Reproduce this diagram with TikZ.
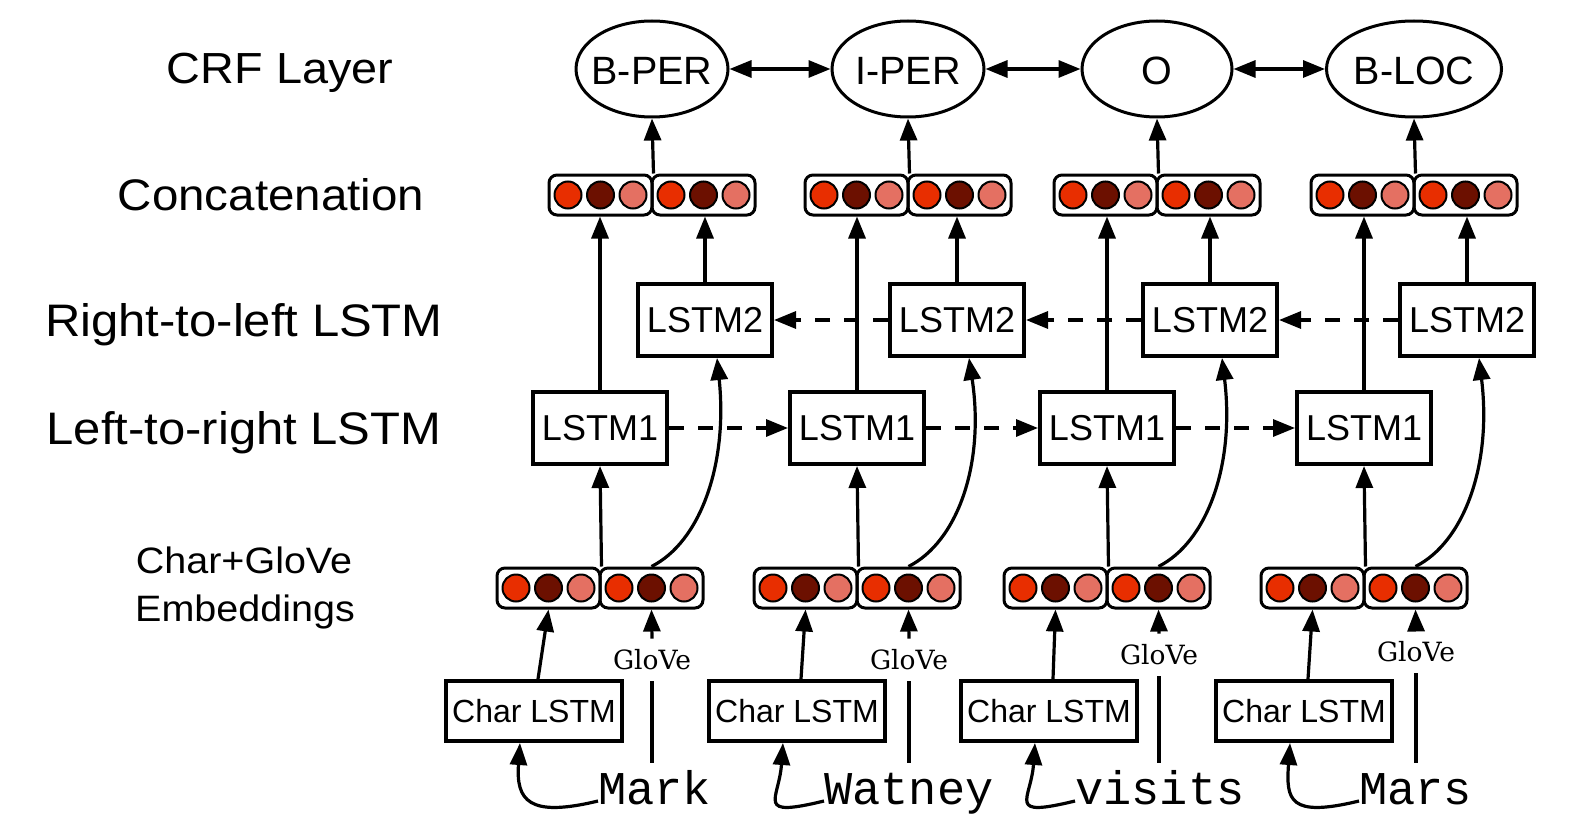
\documentclass[tikz,border=0pt]{standalone}
\usepackage{fontspec}
\setmainfont{Liberation Sans}
\newfontfamily\monofam{Liberation Mono}
\newfontfamily\seriffam{DejaVu Serif}
\usetikzlibrary{arrows.meta,shapes.geometric}
\definecolor{cA}{RGB}{232,46,0}
\definecolor{cB}{RGB}{108,16,0}
\definecolor{cC}{RGB}{228,112,98}
\newcommand{\squash}[1]{\scalebox{1}[0.93]{#1}}
\tikzset{
  lstmbox/.style={draw, line width=4pt, minimum width=134pt, minimum height=72pt, inner sep=0pt, font=\fontsize{36}{42}\selectfont},
  crfell/.style={draw, ellipse, line width=3pt, minimum height=96pt, inner sep=0pt},
  crflab/.style={inner sep=0pt, font=\fontsize{39.5}{46}\selectfont},
  charbox/.style={draw, line width=4pt, minimum width=176pt, minimum height=60pt, inner sep=0pt, font=\fontsize{32}{38}\selectfont},
  vecbox/.style={draw, rounded corners=8pt, line width=3pt, minimum width=103pt, minimum height=40pt, inner sep=0pt},
  vdot/.style={circle, draw, line width=2pt, minimum size=27pt, inner sep=0pt},
  arrw/.style={line width=3.2pt, -{Triangle[length=22pt,width=17pt]}},
  darrw/.style={arrw, dash pattern=on 15pt off 14pt},
  biarrw/.style={line width=3.2pt, {Triangle[length=22pt,width=17pt]}-{Triangle[length=22pt,width=17pt]}},
  plainln/.style={line width=3.2pt},
  smlab/.style={anchor=base, inner sep=0pt, font=\fontsize{39.5}{46}\selectfont},
  glovelab/.style={inner xsep=0pt, inner ysep=11pt, font=\seriffam\fontsize{26.5}{30}\selectfont},
  wordlab/.style={anchor=base west, inner sep=0pt, font=\monofam\fontsize{47}{50}\selectfont}
}
\begin{document}
\begin{tikzpicture}[x=1pt,y=-1pt]
\fill[white] (0,0) rectangle (1590,840);
\useasboundingbox (0,0) rectangle (1590,840);
% row labels
\node[anchor=base, inner sep=0pt, font=\fontsize{46.8}{54}\selectfont] (t1) at (280,84) {\squash{CRF Layer}};
\node[anchor=base, inner sep=0pt, font=\fontsize{47.5}{54}\selectfont] (t2) at (271,210) {\squash{Concatenation}};
\node[anchor=base, inner sep=0pt, font=\fontsize{49}{56}\selectfont] (t3) at (244,336) {\squash{Right-to-left LSTM}};
\node[anchor=base, inner sep=0pt, font=\fontsize{49}{56}\selectfont] (t4) at (244,444) {\squash{Left-to-right LSTM}};
\node[smlab] (t5) at (244,573) {\squash{Char+GloVe}};
\node[smlab] (t6) at (245,621) {\squash{Embeddings}};
\foreach \i/\xa/\xc/\xl/\xh/\gy/\wrd/\wl/\tg/\ew in {
  1/600/652/705/534/660/Mark/598/B-PER/152,
  2/857/908/957/797/660/Watney/824/I-PER/152,
  3/1107/1157/1210/1049/655/visits/1075/O/150,
  4/1364/1414/1467/1304/652/Mars/1359/B-LOC/175}{
  % CRF
  \node[crfell, minimum width=\ew pt] (e\i) at (\xc,69) {};
  \node[crflab] (et\i) at (\xc,71) {\tg};
  % concatenation
  \node[vecbox] (cl\i) at ({\xc-51.5},195) {};
  \node[vecbox] (cr\i) at ({\xc+51.5},195) {};
  \foreach \k/\col/\dx in {1/cA/-32.5,2/cB/0,3/cC/32.5}{
    \node[vdot, fill=\col] (cl\i-\k) at ({\xc-51.5+\dx},195) {};
    \node[vdot, fill=\col] (cr\i-\k) at ({\xc+51.5+\dx},195) {};
  }
  % LSTMs
  \node[lstmbox] (lb\i) at (\xl,320) {LSTM2};
  \node[lstmbox] (la\i) at (\xa,428) {LSTM1};
  % embeddings
  \node[vecbox] (el\i) at ({\xa-51.5},588) {};
  \node[vecbox] (er\i) at ({\xa+51.5},588) {};
  \foreach \k/\col/\dx in {1/cA/-32.5,2/cB/0,3/cC/32.5}{
    \node[vdot, fill=\col] (el\i-\k) at ({\xa-51.5+\dx},588) {};
    \node[vdot, fill=\col] (er\i-\k) at ({\xa+51.5+\dx},588) {};
  }
  % char lstm, glove, word
  \node[charbox] (ch\i) at (\xh,711) {Char LSTM};
  \node[glovelab] (gl\i) at ({\xa+52},\gy) {GloVe};
  \node[wordlab] (w\i) at (\wl,804) {\wrd};
  \coordinate (wt\i) at ({\xa+52},763);
  % connectors
  \draw[arrw] (cl\i.north east) -- (e\i.south);
  \draw[arrw] (la\i.north) -- (la\i.north |- cl\i.south);
  \draw[arrw] (lb\i.north) -- (lb\i.north |- cr\i.south);
  \draw[arrw] (el\i.north east) -- (la\i.south);
  \draw[arrw] (er\i.north) .. controls ({\xa+100},542) and ({\xa+128},465) .. ([xshift=12pt]lb\i.south);
  \draw[arrw] ([xshift=4pt]ch\i.north) -- (el\i.south);
  \draw[arrw] (gl\i.north) -- (er\i.south);
  \draw[plainln] (gl\i.south) -- (wt\i);
  \draw[arrw] ([yshift=3pt]w\i.base west) .. controls ({\wl-70},818) and ({\xh-18},800) .. ([xshift=-14pt]ch\i.south);
}
\foreach \i/\j in {1/2,2/3,3/4}{
  \draw[darrw] (la\i.east) -- (la\j.west);
  \draw[darrw] (lb\j.west) -- (lb\i.east);
  \draw[biarrw] (e\i.east) -- (e\j.west);
}
\end{tikzpicture}
\end{document}
